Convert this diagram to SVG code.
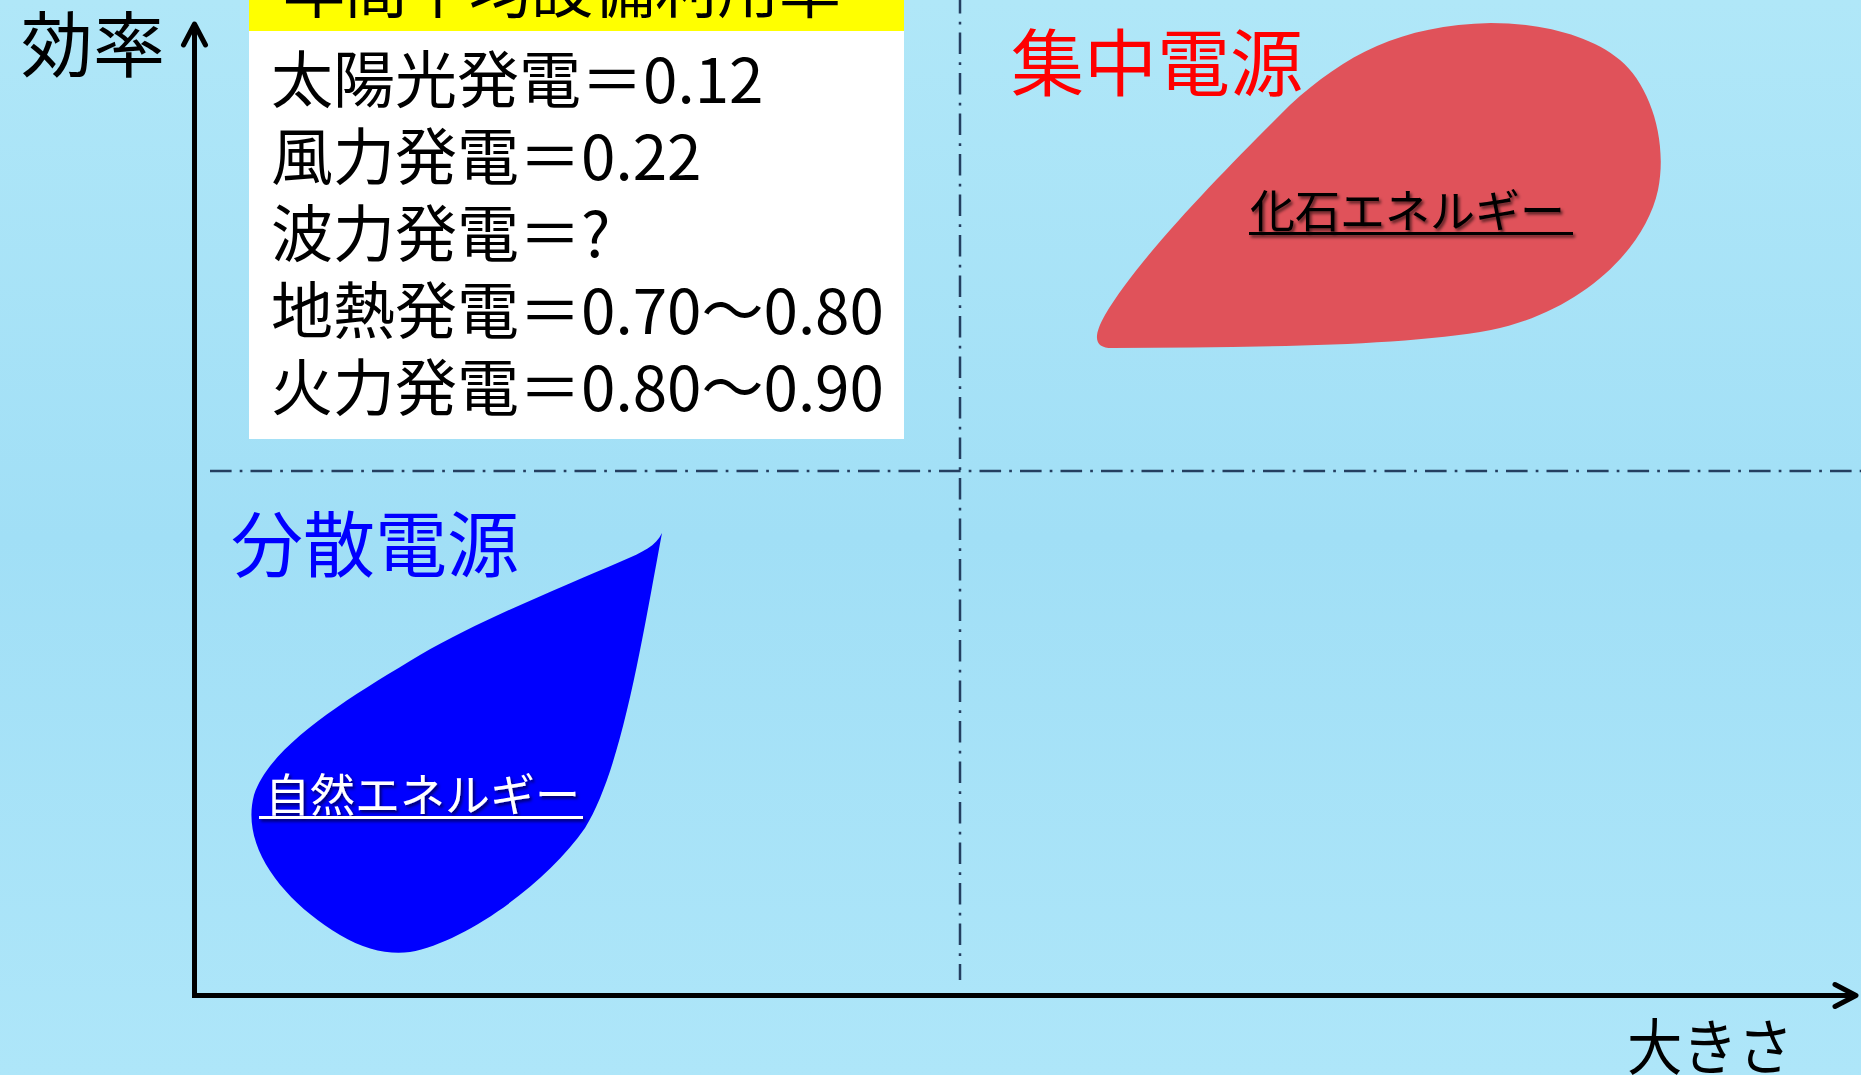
<svg xmlns="http://www.w3.org/2000/svg" width="1861" height="1075" viewBox="0 0 1861 1075">
<defs>
<linearGradient id="bg" x1="0" y1="0" x2="0" y2="1">
<stop offset="0" stop-color="#B0E7F8"/>
<stop offset="0.5" stop-color="#A1DFF6"/>
<stop offset="1" stop-color="#AEE6F9"/>
</linearGradient>
<marker id="arrow" viewBox="-26 -16 30 32" refX="0" refY="0" markerWidth="30" markerHeight="32" markerUnits="userSpaceOnUse" orient="auto">
<path d="M-21,-11 L0,0 L-21,11" fill="none" stroke="#000" stroke-width="5" stroke-linejoin="round" stroke-linecap="round"/>
</marker>
<filter id="shadow" x="-10%" y="-30%" width="120%" height="160%">
<feDropShadow dx="2" dy="2.5" stdDeviation="1.5" flood-color="#000" flood-opacity="0.6"/>
</filter>
</defs>
<style>
text { font-family: "Noto Sans CJK JP", "Noto Sans", sans-serif; }
.list { font-size: 62px; fill: #000; }
.axis { fill: none; stroke: #000; stroke-width: 5; }
.guide { fill: none; stroke: #243F60; stroke-width: 2.7; stroke-dasharray: 21.6 8.1 2.7 8.1; }
.lbl { font-size: 45px; }
</style>
<rect x="0" y="0" width="1861" height="1075" fill="url(#bg)"/>

<g id="guides">
<line class="guide" x1="210" y1="471" x2="1861" y2="471"/>
<line class="guide" x1="960" y1="-8" x2="960" y2="980" style="stroke-width:2.5"/>
</g>

<g id="legend">
<rect x="249" y="-10" width="655" height="41" fill="#FFFF00"/>
<rect x="249" y="31" width="655" height="408" fill="#FFFFFF"/>
<text class="list" x="283" y="13">年間平均設備利用率</text>
<text class="list" x="271" y="103">太陽光発電＝0.12</text>
<text class="list" x="271" y="180">風力発電＝0.22</text>
<text class="list" x="271" y="257">波力発電＝?</text>
<text class="list" x="271" y="334">地熱発電＝0.70～0.80</text>
<text class="list" x="271" y="411">火力発電＝0.80～0.90</text>
</g>

<g id="fossil">
<path d="M1112,348 C1250,347 1400,347 1491,330 C1580,312 1645,250 1658,190 C1668,140 1650,85 1620,60 C1590,35 1540,23 1491,23 C1400,25 1345,55 1290,105 C1230,165 1140,255 1105,315 C1092,338 1095,348 1112,348 Z" fill="#E0525A"/>
<g filter="url(#shadow)">
<text class="lbl" x="1250" y="228" fill="#000">化石エネルギー</text>
<rect x="1249" y="232" width="324" height="3" fill="#000"/>
</g>
</g>

<g id="natural">
<path d="M662,533 C656,546 643,552 622,561 C560,588 480,620 420,655 C350,697 270,745 254,795 C240,848 285,902 340,935 C365,950 390,955 410,952 C465,942 545,885 585,828 C622,768 642,640 662,533 Z" fill="#0000FF"/>
<g filter="url(#shadow)">
<text class="lbl" x="265" y="812" fill="#FFF">自然エネルギー</text>
<rect x="259" y="816" width="324" height="3" fill="#FFF"/>
</g>
</g>

<g id="centralized">
<text x="1011" y="90" font-size="73" fill="#FF0000">集中電源</text>
</g>
<g id="distributed">
<text x="231" y="571" font-size="72" fill="#0000FF">分散電源</text>
</g>

<g id="axis-labels">
<text x="21" y="71" font-size="72" fill="#000">効率</text>
<text x="1627" y="1070" font-size="61" fill="#000" textLength="166" lengthAdjust="spacingAndGlyphs">大きさ</text>
</g>

<g id="connectors">
<line class="axis" x1="194.5" y1="998" x2="194.5" y2="24" marker-end="url(#arrow)"/>
<line class="axis" x1="192" y1="995.5" x2="1856" y2="995.5" marker-end="url(#arrow)"/>
</g>
</svg>
